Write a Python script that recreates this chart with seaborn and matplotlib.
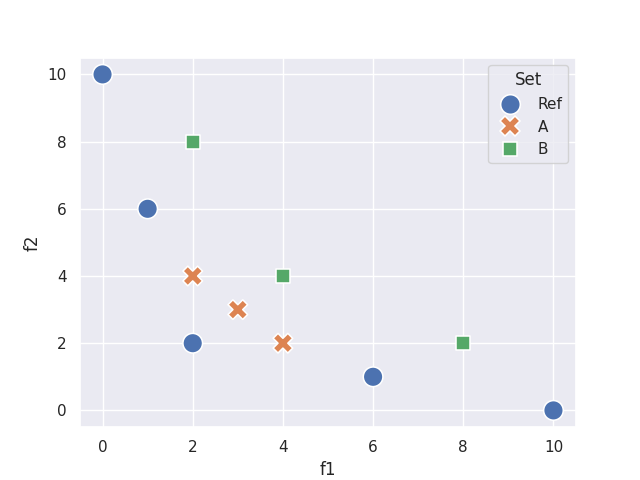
import matplotlib
matplotlib.use("Agg")
import matplotlib.pyplot as plt
import seaborn as sns
import pandas as pd

ref_f1 = [0, 1, 2, 6, 10]
ref_f2 = [10, 6, 2, 1, 0]
a_f1 = [2, 3, 4]
a_f2 = [4, 3, 2]
b_f1 = [2, 4, 8]
b_f2 = [8, 4, 2]

df = pd.DataFrame({
    "f1": ref_f1 + a_f1 + b_f1,
    "f2": ref_f2 + a_f2 + b_f2,
    "Set": ["Ref"] * len(ref_f1) + ["A"] * len(a_f1) + ["B"] * len(b_f1),
})

sns.set_theme()
fig, ax = plt.subplots(figsize=(6.4, 4.8), dpi=100)
sns.scatterplot(data=df, x="f1", y="f2", hue="Set", style="Set", s=200, ax=ax)
fig.savefig("out.png", dpi=100)
